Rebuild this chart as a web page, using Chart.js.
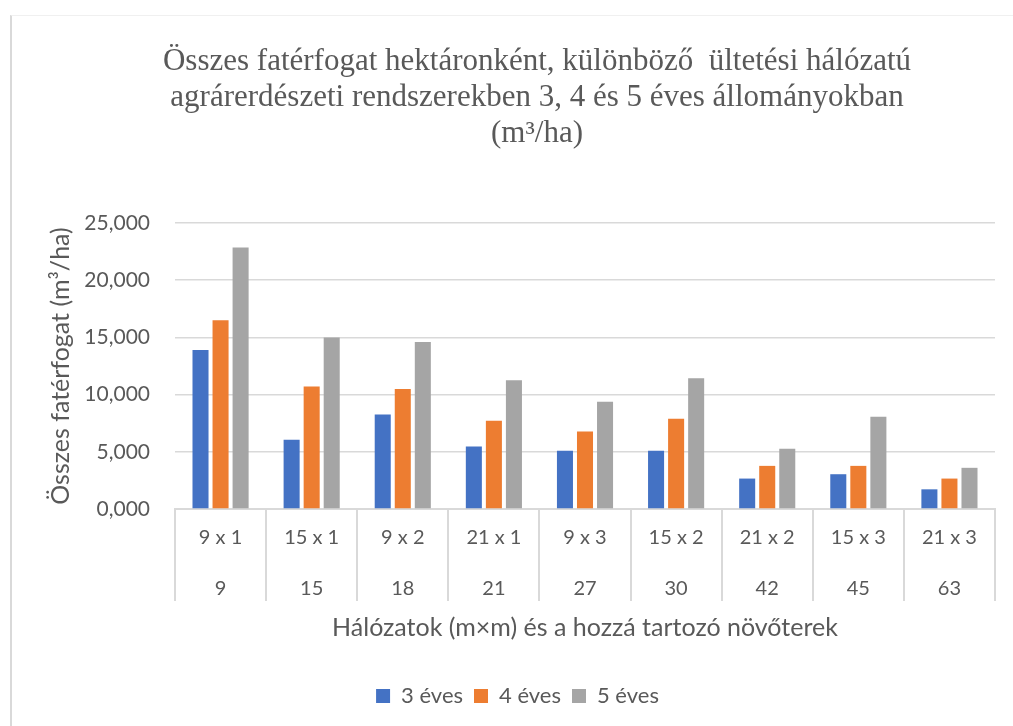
<!DOCTYPE html>
<html>
<head>
    <title>Összes fatérfogat</title>
    <script src="https://cdn.jsdelivr.net/npm/chart.js"></script>
    <style>
        body {
            margin: 0;
            background: #ffffff;
        }
        .frame {
            position: absolute;
            left: 10px;
            top: 15px;
            width: 1010px;
            height: 720px;
            border-left: 2px solid #d9d9d9;
            border-top: 1px solid #f0f0f0;
            pointer-events: none;
        }
        .chart-container {
            position: absolute;
            left: 0;
            top: 0;
            width: 1013px;
            height: 726px;
        }
    </style>
</head>
<body>
    <div class="frame"></div>
    <div class="chart-container">
        <canvas id="volumeChart" width="1013" height="726"></canvas>
    </div>

<script>
    // categories: two row labels (network, growing space)
    var networks = ['9 x 1', '15 x 1', '9 x 2', '21 x 1', '9 x 3', '15 x 2', '21 x 2', '15 x 3', '21 x 3'];
    var spaces = ['9', '15', '18', '21', '27', '30', '42', '45', '63'];

    var age3 = [13.9, 6.05, 8.27, 5.46, 5.1, 5.1, 2.66, 3.04, 1.72];
    var age4 = [16.5, 10.7, 10.5, 7.72, 6.78, 7.89, 3.77, 3.77, 2.66];
    var age5 = [22.86, 15.0, 14.6, 11.25, 9.37, 11.43, 5.26, 8.07, 3.6];

    var seriesNames = ['3 éves', '4 éves', '5 éves'];

    var titleLines = [
        'Összes fatérfogat hektáronként, különböző  ültetési hálózatú',
        'agrárerdészeti rendszerekben 3, 4 és 5 éves állományokban',
        '(m³/ha)'
    ];

    Chart.defaults.font.family = 'Lato';
    Chart.defaults.color = '#595959';

    // title is drawn by hand so it can sit off-centre like the original
    var titlePlugin = {
        id: 'pageTitle',
        afterDraw: function(chart) {
            var ctx = chart.ctx;
            ctx.save();
            ctx.font = '31px "Liberation Serif"';
            ctx.fillStyle = '#595959';
            ctx.textAlign = 'center';
            ctx.textBaseline = 'middle';
            titleLines.forEach(function(line, i) {
                ctx.fillText(line, 537, 62 + i * 36);
            });
            ctx.restore();
        }
    };

    var labels = networks.map(function(n, i) { return [n, spaces[i]]; });

    var data = {
        labels: labels,
        datasets: [
            { label: seriesNames[0], data: age3, backgroundColor: '#4472c4' },
            { label: seriesNames[1], data: age4, backgroundColor: '#ed7d31' },
            { label: seriesNames[2], data: age5, backgroundColor: '#a5a5a5' }
        ]
    };

    var config = {
        type: 'bar',
        data: data,
        options: {
            responsive: false,
            animation: false,
            barPercentage: 0.8,
            categoryPercentage: 0.66,
            layout: {
                padding: { top: 223, left: 40, right: 18, bottom: 9 }
            },
            plugins: {
                legend: {
                    position: 'bottom',
                    labels: {
                        boxWidth: 14,
                        boxHeight: 14,
                        padding: 11,
                        color: '#595959',
                        font: { size: 22 }
                    }
                },
                tooltip: { enabled: false }
            },
            scales: {
                x: {
                    offset: true,
                    grid: {
                        offset: true,
                        drawOnChartArea: false,
                        tickLength: 92,
                        color: '#d9d9d9',
                        lineWidth: 2
                    },
                    border: { color: '#d9d9d9', width: 2 },
                    ticks: {
                        padding: -89,
                        color: '#595959',
                        maxRotation: 0,
                        autoSkip: false,
                        font: { size: 20, lineHeight: 2.55 }
                    },
                    title: {
                        display: true,
                        text: 'Hálózatok (m×m) és a hozzá tartozó növőterek',
                        color: '#595959',
                        font: { size: 25 },
                        padding: { top: 0, bottom: 31 }
                    },
                    afterFit: function(scale) { scale.height = 165; }
                },
                y: {
                    min: 0,
                    max: 25,
                    ticks: {
                        stepSize: 5,
                        padding: 25,
                        color: '#595959',
                        font: { size: 21 },
                        callback: function(v) { return v.toFixed(3).replace('.', ','); }
                    },
                    grid: {
                        color: '#d9d9d9',
                        lineWidth: 1.5,
                        drawTicks: false
                    },
                    border: { display: false },
                    title: {
                        display: true,
                        text: 'Összes fatérfogat (m³/ha)',
                        color: '#595959',
                        font: { size: 25 },
                        padding: { top: 6, bottom: 0 }
                    },
                    afterFit: function(scale) { scale.width = 135; }
                }
            }
        },
        plugins: [titlePlugin]
    };

    var ctx = document.getElementById('volumeChart').getContext('2d');
    var volumeChart = new Chart(ctx, config);
</script>
</body>
</html>
